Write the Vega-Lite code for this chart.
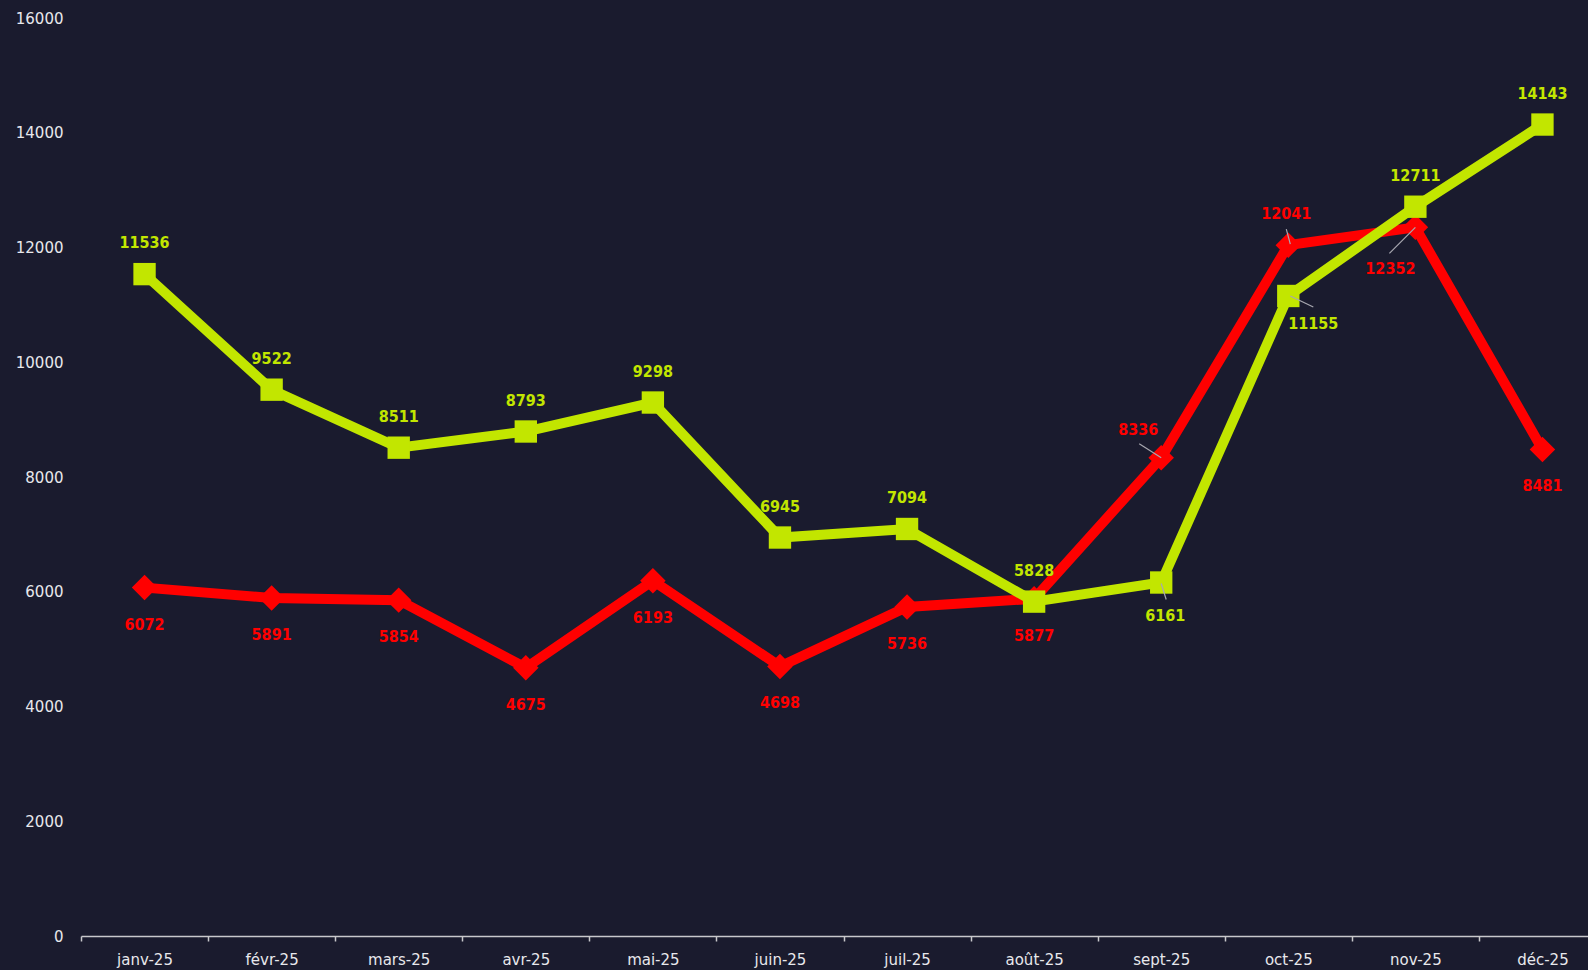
{
  "$schema": "https://vega.github.io/schema/vega-lite/v6.json",
  "autosize": {"type": "none"},
  "width": 1507,
  "height": 918,
  "padding": {"left": 81, "top": 18, "right": 0, "bottom": 34},
  "background": "#1a1b2e",
  "config": {"view": {"stroke": null}},
  "data": {"values": [
    {"month": "janv-25", "serie": "vert", "value": 11536},
    {"month": "févr-25", "serie": "vert", "value": 9522},
    {"month": "mars-25", "serie": "vert", "value": 8511},
    {"month": "avr-25", "serie": "vert", "value": 8793},
    {"month": "mai-25", "serie": "vert", "value": 9298},
    {"month": "juin-25", "serie": "vert", "value": 6945},
    {"month": "juil-25", "serie": "vert", "value": 7094},
    {"month": "août-25", "serie": "vert", "value": 5828},
    {"month": "sept-25", "serie": "vert", "value": 6161},
    {"month": "oct-25", "serie": "vert", "value": 11155},
    {"month": "nov-25", "serie": "vert", "value": 12711},
    {"month": "déc-25", "serie": "vert", "value": 14143},
    {"month": "janv-25", "serie": "rouge", "value": 6072},
    {"month": "févr-25", "serie": "rouge", "value": 5891},
    {"month": "mars-25", "serie": "rouge", "value": 5854},
    {"month": "avr-25", "serie": "rouge", "value": 4675},
    {"month": "mai-25", "serie": "rouge", "value": 6193},
    {"month": "juin-25", "serie": "rouge", "value": 4698},
    {"month": "juil-25", "serie": "rouge", "value": 5736},
    {"month": "août-25", "serie": "rouge", "value": 5877},
    {"month": "sept-25", "serie": "rouge", "value": 8336},
    {"month": "oct-25", "serie": "rouge", "value": 12041},
    {"month": "nov-25", "serie": "rouge", "value": 12352},
    {"month": "déc-25", "serie": "rouge", "value": 8481}
  ]},
  "encoding": {
    "x": {
      "field": "month", "type": "nominal", "sort": null,
      "scale": {"range": [0, 1525], "paddingInner": 0, "paddingOuter": 0},
      "axis": {
        "title": null, "labelAngle": 0, "tickBand": "extent",
        "domainColor": "#c8c8cc", "domainWidth": 1.5, "tickColor": "#c8c8cc", "tickWidth": 1.5, "tickSize": 5,
        "labelColor": "#e8e8ec", "labelFont": "DejaVu Sans", "labelFontSize": 15, "labelPadding": 11
      }
    },
    "y": {
      "field": "value", "type": "quantitative",
      "scale": {"domain": [0, 16000], "nice": false},
      "axis": {
        "title": null, "values": [0, 2000, 4000, 6000, 8000, 10000, 12000, 14000, 16000], "format": "d",
        "grid": false, "domain": false, "ticks": false, "labelPadding": 18,
        "labelColor": "#e8e8ec", "labelFont": "DejaVu Sans", "labelFontSize": 15
      }
    }
  },
  "layer": [
    {"transform": [{"filter": "datum.serie === 'rouge'"}],
     "mark": {"type": "line", "color": "#ff0000", "strokeWidth": 10}},
    {"transform": [{"filter": "datum.serie === 'rouge'"}],
     "mark": {"type": "point", "shape": "diamond", "filled": true, "opacity": 1, "color": "#ff0000", "size": 650}},
    {"transform": [{"filter": "datum.serie === 'vert'"}],
     "mark": {"type": "line", "color": "#c2e600", "strokeWidth": 10}},
    {"transform": [{"filter": "datum.serie === 'vert'"}],
     "mark": {"type": "point", "shape": "square", "filled": true, "opacity": 1, "color": "#c2e600", "size": 500}},
    {"transform": [{"filter": "datum.serie === 'rouge' && datum.month === 'sept-25'"}],
     "mark": {"type": "rule", "color": "#a8a8b0", "strokeWidth": 1.2, "xOffset": -22, "yOffset": -14, "x2Offset": 0, "y2Offset": 0},
     "encoding": {"x2": {"field": "month"}, "y2": {"field": "value"}}},
    {"transform": [{"filter": "datum.serie === 'rouge' && datum.month === 'oct-25'"}],
     "mark": {"type": "rule", "color": "#a8a8b0", "strokeWidth": 1.2, "xOffset": -2, "yOffset": -16, "x2Offset": 2, "y2Offset": -1},
     "encoding": {"x2": {"field": "month"}, "y2": {"field": "value"}}},
    {"transform": [{"filter": "datum.serie === 'rouge' && datum.month === 'nov-25'"}],
     "mark": {"type": "rule", "color": "#a8a8b0", "strokeWidth": 1.2, "xOffset": 0, "yOffset": 0, "x2Offset": -26, "y2Offset": 26},
     "encoding": {"x2": {"field": "month"}, "y2": {"field": "value"}}},
    {"transform": [{"filter": "datum.serie === 'vert' && datum.month === 'oct-25'"}],
     "mark": {"type": "rule", "color": "#a8a8b0", "strokeWidth": 1.2, "xOffset": 2, "yOffset": 0, "x2Offset": 25, "y2Offset": 11},
     "encoding": {"x2": {"field": "month"}, "y2": {"field": "value"}}},
    {"transform": [{"filter": "datum.serie === 'vert' && datum.month === 'sept-25'"}],
     "mark": {"type": "rule", "color": "#a8a8b0", "strokeWidth": 1.2, "xOffset": 0, "yOffset": 1, "x2Offset": 5, "y2Offset": 17},
     "encoding": {"x2": {"field": "month"}, "y2": {"field": "value"}}},
    {"transform": [{"filter": "datum.serie === 'vert' && datum.month !== 'sept-25' && datum.month !== 'oct-25'"}],
     "mark": {"type": "text", "color": "#c2e600", "font": "DejaVu Sans Condensed", "fontWeight": "bold", "fontSize": 16, "baseline": "middle", "dy": -31},
     "encoding": {"text": {"field": "value", "type": "quantitative", "format": "d"}}},
    {"transform": [{"filter": "datum.serie === 'vert' && datum.month === 'sept-25'"}],
     "mark": {"type": "text", "color": "#c2e600", "font": "DejaVu Sans Condensed", "fontWeight": "bold", "fontSize": 16, "baseline": "middle", "dx": 4, "dy": 33},
     "encoding": {"text": {"field": "value", "type": "quantitative", "format": "d"}}},
    {"transform": [{"filter": "datum.serie === 'vert' && datum.month === 'oct-25'"}],
     "mark": {"type": "text", "color": "#c2e600", "font": "DejaVu Sans Condensed", "fontWeight": "bold", "fontSize": 16, "baseline": "middle", "dx": 25, "dy": 28},
     "encoding": {"text": {"field": "value", "type": "quantitative", "format": "d"}}},
    {"transform": [{"filter": "datum.serie === 'rouge' && datum.month !== 'sept-25' && datum.month !== 'oct-25' && datum.month !== 'nov-25'"}],
     "mark": {"type": "text", "color": "#ff0000", "font": "DejaVu Sans Condensed", "fontWeight": "bold", "fontSize": 16, "baseline": "middle", "dy": 37},
     "encoding": {"text": {"field": "value", "type": "quantitative", "format": "d"}}},
    {"transform": [{"filter": "datum.serie === 'rouge' && datum.month === 'sept-25'"}],
     "mark": {"type": "text", "color": "#ff0000", "font": "DejaVu Sans Condensed", "fontWeight": "bold", "fontSize": 16, "baseline": "middle", "dx": -23, "dy": -28},
     "encoding": {"text": {"field": "value", "type": "quantitative", "format": "d"}}},
    {"transform": [{"filter": "datum.serie === 'rouge' && datum.month === 'oct-25'"}],
     "mark": {"type": "text", "color": "#ff0000", "font": "DejaVu Sans Condensed", "fontWeight": "bold", "fontSize": 16, "baseline": "middle", "dx": -2, "dy": -31},
     "encoding": {"text": {"field": "value", "type": "quantitative", "format": "d"}}},
    {"transform": [{"filter": "datum.serie === 'rouge' && datum.month === 'nov-25'"}],
     "mark": {"type": "text", "color": "#ff0000", "font": "DejaVu Sans Condensed", "fontWeight": "bold", "fontSize": 16, "baseline": "middle", "dx": -25, "dy": 42},
     "encoding": {"text": {"field": "value", "type": "quantitative", "format": "d"}}}
  ]
}
